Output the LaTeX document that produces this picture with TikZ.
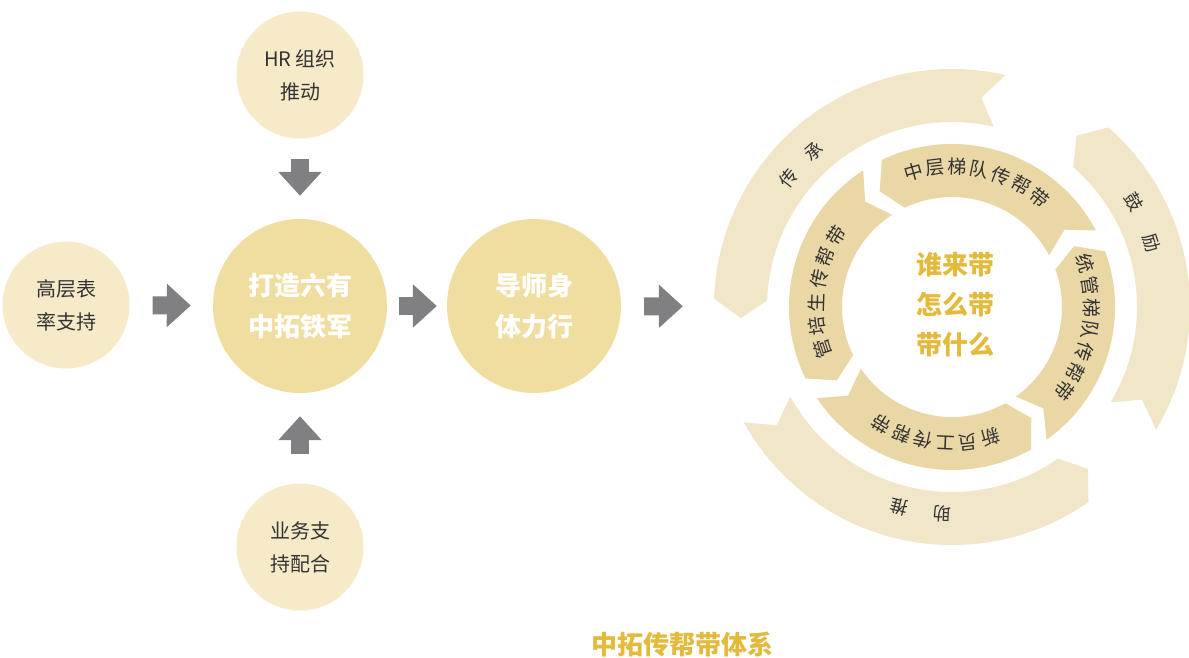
\documentclass[tikz,border=0pt]{standalone}
\usepackage{fontspec}
\setmainfont{Noto Sans CJK SC}
\usetikzlibrary{arrows.meta}

\definecolor{sidefill}{RGB}{246,234,201}
\definecolor{hubfill}{RGB}{240,222,160}
\definecolor{arrowgray}{RGB}{128,128,131}
\definecolor{outerband}{RGB}{242,230,201}
\definecolor{innerband}{RGB}{234,215,166}
\definecolor{gold}{RGB}{228,186,60}
\definecolor{txtdark}{RGB}{51,51,51}

\tikzset{
  side/.style={circle, fill=sidefill, minimum size=127pt, inner sep=0pt, align=center,
    text=txtdark, font=\fontsize{20}{33}\selectfont},
  hub/.style={circle, fill=hubfill, minimum size=174pt, inner sep=0pt, align=center,
    text=white, font=\bfseries\fontsize{26}{41}\selectfont},
  flow/.style={draw=arrowgray, line width=18pt, -{Triangle[length=24pt,width=42pt]}},
  innerchar/.style={inner sep=0pt, text=txtdark, font=\fontsize{19}{19}\selectfont},
  outerchar/.style={inner sep=0pt, text=txtdark, font=\fontsize{18}{18}\selectfont}
}

\begin{document}
\begin{tikzpicture}[x=1pt,y=1pt]
\useasboundingbox (0,0) rectangle (1189,657);
\fill[white] (0,0) rectangle (1189,657);

% left side: circles
\node[side] (lead) at (66,352) {高层表\\率支持};
\node[side] (hr) at (300,582) {HR 组织\\推动};
\node[side] (biz) at (300,110) {业务支\\持配合};
\node[hub] (core) at (300,351) {打造六有\\中拓铁军};
\node[hub] (mentor) at (534,351) {导师身\\体力行};
\node[circle, minimum size=476pt, inner sep=0pt] (ring) at (952,350) {};

% grey block arrows
\draw[flow, shorten <=23pt, shorten >=22pt] (lead) -- (core);
\draw[flow, shorten <=20pt, shorten >=23pt] (hr) -- (core);
\draw[flow, shorten <=29pt, shorten >=23pt] (biz) -- (core);
\draw[flow, shorten <=12pt, shorten >=10pt] (core) -- (mentor);
\draw[flow, shorten <=23pt, shorten >=31pt] (mentor) -- (ring);

% ring
\begin{scope}[shift={(952,350)}]
% outer bands
\fill[outerband] (77:238) -- (82:211.5) -- (77:185) arc[start angle=77, end angle=178, radius=185]
  -- (183:211.5) -- (178:238) arc[start angle=178, end angle=77, radius=238] -- cycle;
\fill[outerband] (-31:238) -- (-26:211.5) -- (-31:185) arc[start angle=-31, end angle=49, radius=185]
  -- (54:211.5) -- (49:238) arc[start angle=49, end angle=-31, radius=238] -- cycle;
\fill[outerband] (-151:238) -- (-146:211.5) -- (-151:185) arc[start angle=-151, end angle=-55, radius=185]
  -- (-50:211.5) -- (-55:238) arc[start angle=-55, end angle=-151, radius=238] -- cycle;
% inner bands
\fill[innerband] (28:163) -- (34.5:136.5) -- (28:110) arc[start angle=28, end angle=115.5, radius=110]
  -- (122:136.5) -- (115.5:163) arc[start angle=115.5, end angle=28, radius=163] -- cycle;
\fill[innerband] (-54.5:163) -- (-48:136.5) -- (-54.5:110) arc[start angle=-54.5, end angle=20, radius=110]
  -- (26.5:136.5) -- (20:163) arc[start angle=20, end angle=-54.5, radius=163] -- cycle;
\fill[innerband] (-146:163) -- (-139.5:136.5) -- (-146:110) arc[start angle=-146, end angle=-61, radius=110]
  -- (-54.5:136.5) -- (-61:163) arc[start angle=-61, end angle=-146, radius=163] -- cycle;
\fill[innerband] (123:163) -- (129.5:136.5) -- (123:110) arc[start angle=123, end angle=206, radius=110]
  -- (212.5:136.5) -- (206:163) arc[start angle=206, end angle=123, radius=163] -- cycle;

% outer labels
\node[outerchar, rotate=51.9] (chuan) at (141.9:208) {传};
\node[outerchar, rotate=41.6] (cheng) at (131.6:208) {承};
\node[outerchar, rotate=-60] (gu) at (30:210) {鼓};
\node[outerchar, rotate=-72.2] (li) at (17.8:210) {励};
\node[outerchar, rotate=-182.8] (zhu) at (-92.8:207) {助};
\node[outerchar, rotate=-194.8] (tui) at (-104.8:207) {推};

% inner labels
\node[innerchar, rotate=15.9] (mid1) at (105.9:140) {中};
\node[innerchar, rotate=6.8] (mid2) at (96.8:140) {层};
\node[innerchar, rotate=-2.3] (mid3) at (87.7:140) {梯};
\node[innerchar, rotate=-11.4] (mid4) at (78.6:140) {队};
\node[innerchar, rotate=-20.5] (mid5) at (69.5:140) {传};
\node[innerchar, rotate=-29.6] (mid6) at (60.4:140) {帮};
\node[innerchar, rotate=-38.7] (mid7) at (51.3:140) {带};
\node[innerchar, rotate=-72] (tg1) at (18:140) {统};
\node[innerchar, rotate=-81.1] (tg2) at (8.9:140) {管};
\node[innerchar, rotate=-90.3] (tg3) at (-0.3:140) {梯};
\node[innerchar, rotate=-99.4] (tg4) at (-9.4:140) {队};
\node[innerchar, rotate=-108.5] (tg5) at (-18.5:140) {传};
\node[innerchar, rotate=-117.7] (tg6) at (-27.7:140) {帮};
\node[innerchar, rotate=-126.8] (tg7) at (-36.8:140) {带};
\node[innerchar, rotate=-163.7] (new1) at (-73.7:136) {新};
\node[innerchar, rotate=-173.2] (new2) at (-83.2:136) {员};
\node[innerchar, rotate=-182.7] (new3) at (-92.7:136) {工};
\node[innerchar, rotate=-192.3] (new4) at (-102.3:136) {传};
\node[innerchar, rotate=-201.8] (new5) at (-111.8:136) {帮};
\node[innerchar, rotate=-211.3] (new6) at (-121.3:136) {带};
\node[innerchar, rotate=107.9] (gp1) at (197.9:136) {管};
\node[innerchar, rotate=98] (gp2) at (188:136) {培};
\node[innerchar, rotate=88.1] (gp3) at (178.1:136) {生};
\node[innerchar, rotate=78.1] (gp4) at (168.1:136) {传};
\node[innerchar, rotate=68.2] (gp5) at (158.2:136) {帮};
\node[innerchar, rotate=58.3] (gp6) at (148.3:136) {带};
\end{scope}

% centre and title
\node[align=center, text=gold, font=\bfseries\fontsize{26}{40}\selectfont] (who) at (955,352) {谁来带\\怎么带\\带什么};
\node[text=gold, font=\bfseries\fontsize{26}{26}\selectfont] (title) at (682,12) {中拓传帮带体系};
\end{tikzpicture}
\end{document}
